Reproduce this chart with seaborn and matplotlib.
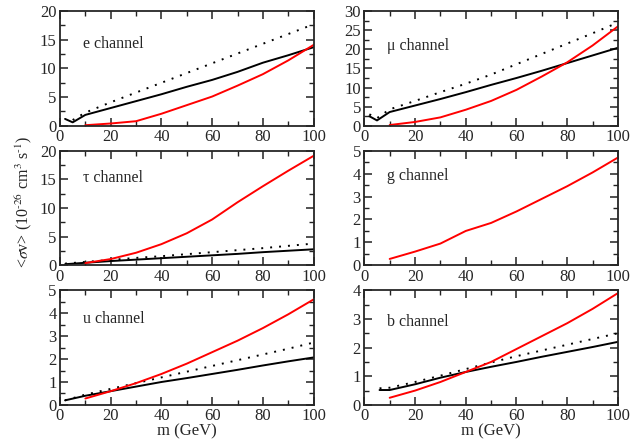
import numpy as np
import pandas as pd
import matplotlib
matplotlib.use("Agg")
import matplotlib.pyplot as plt
from matplotlib.ticker import MultipleLocator
import seaborn as sns

# Dark-matter annihilation cross sections <sigma v> (1e-26 cm^3/s) vs mass m (GeV)
m_full = [10, 20, 30, 40, 50, 60, 70, 80, 90, 100]

# e channel
e_black_m = [2, 5, 10, 20, 30, 40, 50, 60, 70, 80, 90, 100]
e_black = [1.2, 0.6, 1.9, 3.1, 4.3, 5.5, 6.8, 8.0, 9.4, 11.0, 12.3, 13.7]
e_dot_m = [5, 10, 20, 30, 40, 50, 60, 70, 80, 90, 100]
e_dot = [1.0, 2.3, 4.1, 5.8, 7.5, 9.2, 10.9, 12.6, 14.3, 16.0, 17.7]
e_red = [0.1, 0.4, 0.8, 2.1, 3.6, 5.1, 7.0, 9.0, 11.4, 14.1]

# mu channel
mu_black_m = [2, 5, 10, 20, 30, 40, 50, 60, 70, 80, 90, 100]
mu_black = [2.5, 1.4, 3.6, 5.3, 7.0, 8.8, 10.7, 12.5, 14.4, 16.4, 18.4, 20.4]
mu_dot_m = [2, 5, 10, 20, 30, 40, 50, 60, 70, 80, 90, 100]
mu_dot = [3.0, 2.0, 4.3, 6.5, 8.8, 11.0, 13.4, 16.1, 18.8, 21.5, 24.2, 27.0]
mu_red = [0.2, 1.0, 2.2, 4.2, 6.5, 9.4, 12.9, 16.6, 21.0, 26.0]

# tau channel
tau_black_m = [2, 10, 20, 30, 40, 50, 60, 70, 80, 90, 100]
tau_black = [0.2, 0.45, 0.75, 1.0, 1.25, 1.5, 1.75, 2.0, 2.3, 2.55, 2.8]
tau_dot_m = [2, 10, 20, 30, 40, 50, 60, 70, 80, 90, 100]
tau_dot = [0.3, 0.6, 0.95, 1.3, 1.6, 1.95, 2.3, 2.65, 3.0, 3.4, 3.8]
tau_red = [0.4, 1.1, 2.2, 3.7, 5.6, 8.0, 11.0, 13.8, 16.5, 19.1]

# g channel
g_red = [0.28, 0.6, 0.95, 1.5, 1.85, 2.35, 2.9, 3.45, 4.05, 4.7]

# u channel
u_black_m = [2, 10, 20, 30, 40, 50, 60, 70, 80, 90, 100]
u_black = [0.2, 0.4, 0.6, 0.8, 1.0, 1.17, 1.35, 1.53, 1.72, 1.9, 2.07]
u_dot_m = [2, 10, 20, 30, 40, 50, 60, 70, 80, 90, 100]
u_dot = [0.2, 0.45, 0.7, 0.95, 1.2, 1.45, 1.7, 1.95, 2.2, 2.45, 2.72]
u_red = [0.28, 0.6, 0.95, 1.35, 1.8, 2.3, 2.8, 3.35, 3.95, 4.6]

# b channel
b_black_m = [6, 10, 20, 30, 40, 50, 60, 70, 80, 90, 100]
b_black = [0.52, 0.52, 0.72, 0.95, 1.15, 1.33, 1.5, 1.68, 1.85, 2.02, 2.2]
b_dot_m = [6, 10, 20, 30, 40, 50, 60, 70, 80, 90, 100]
b_dot = [0.58, 0.6, 0.8, 1.02, 1.25, 1.48, 1.7, 1.9, 2.1, 2.3, 2.5]
b_red = [0.25, 0.5, 0.8, 1.15, 1.5, 1.95, 2.4, 2.85, 3.35, 3.9]

panels = [
    ("e channel", (e_black_m, e_black), (e_dot_m, e_dot), e_red, 20, 5, 2.5, 0.71),
    ("\u03bc channel", (mu_black_m, mu_black), (mu_dot_m, mu_dot), mu_red, 30, 5, 2.5, 0.70),
    ("\u03c4 channel", (tau_black_m, tau_black), (tau_dot_m, tau_dot), tau_red, 20, 5, 2.5, 0.765),
    ("g channel", None, None, g_red, 5, 1, 0.5, 0.78),
    ("u channel", (u_black_m, u_black), (u_dot_m, u_dot), u_red, 5, 1, 0.5, 0.75),
    ("b channel", (b_black_m, b_black), (b_dot_m, b_dot), b_red, 4, 1, 0.5, 0.72),
]

sns.set_style("ticks")
plt.rcParams["font.family"] = ["Liberation Serif", "DejaVu Serif"]
plt.rcParams["mathtext.fontset"] = "stix"
plt.rcParams["axes.linewidth"] = 1.3

fig, axes = plt.subplots(3, 2, figsize=(6.41, 4.44), dpi=100)
fig.subplots_adjust(left=0.0936, right=0.964, top=0.975, bottom=0.088,
                    wspace=0.2, hspace=0.217)

for ax, (label, black, dot, red, ymax, ymaj, ymin, ty) in zip(axes.flat, panels):
    if dot is not None:
        sns.lineplot(x=dot[0], y=dot[1], ax=ax, color="black", lw=1.4,
                     linestyle=(0, (1, 3.6)))
    if black is not None:
        sns.lineplot(x=black[0], y=black[1], ax=ax, color="black", lw=1.4)
    sns.lineplot(x=m_full, y=red, ax=ax, color="red", lw=1.4)
    ax.set_xlim(0, 100)
    ax.set_ylim(0, ymax)
    ax.xaxis.set_major_locator(MultipleLocator(20))
    ax.xaxis.set_minor_locator(MultipleLocator(10))
    ax.yaxis.set_major_locator(MultipleLocator(ymaj))
    ax.yaxis.set_minor_locator(MultipleLocator(ymin))
    ax.tick_params(which="both", direction="in", top=True, right=True,
                   labelsize=12, pad=2.5, color="#222222")
    ax.tick_params(which="major", length=6, width=1.1)
    ax.tick_params(which="minor", length=3.5, width=1.0)
    ax.text(0.09, ty, label, transform=ax.transAxes, fontsize=11.5,
            va="center", ha="left")
    ax.set_xlabel("")
    ax.set_ylabel("")

for ax in axes[2]:
    ax.set_xlabel("m (GeV)", fontsize=12, labelpad=-1)

fig.text(0.037, 0.545,
         r"<$\sigma$v> (10$^{\text{-}26}$ cm$^{3}$ s$^{\text{-}1}$)",
         rotation=90, ha="center", va="center", fontsize=11.5)

fig.savefig("out.png", dpi=100)
